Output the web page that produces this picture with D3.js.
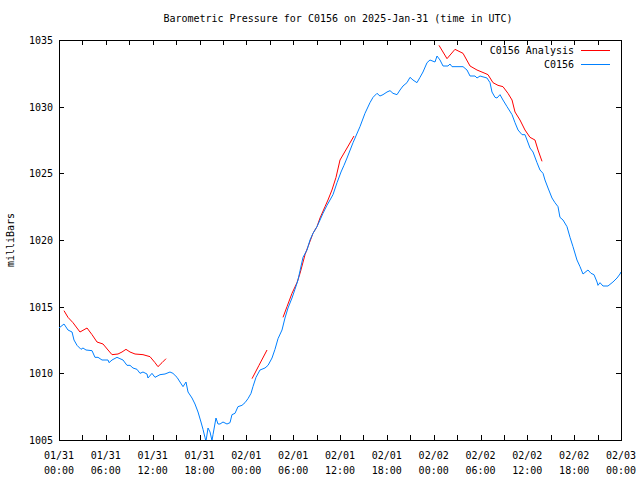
<!DOCTYPE html>
<html><head><meta charset="utf-8">
<script src="https://cdn.jsdelivr.net/npm/d3@7"></script>
<style>
body{margin:0;background:#fff;}
text{font-family:"DejaVu Sans Mono",monospace;font-size:10px;fill:#000;}
</style></head>
<body><svg id="c" width="640" height="480"></svg>
<script>
const startDate = Date.UTC(2025,0,31,0,0);
const yTicks = [1005,1010,1015,1020,1025,1030,1035];
const xTickDates = ["01/31","01/31","01/31","01/31","02/01","02/01","02/01","02/01","02/02","02/02","02/02","02/02","02/03"];
const xTickTimes = ["00:00","06:00","12:00","18:00","00:00","06:00","12:00","18:00","00:00","06:00","12:00","18:00","00:00"];
const seriesNames = ["C0156 Analysis","C0156"];

// observed (hours after 2025-01-31 00:00 UTC)
const obsHours = [0,0.64,1.15,1.67,1.92,2.31,2.82,3.07,3.46,4.23,4.61,5.0,5.51,6.28,6.41,6.79,7.43,7.81,8.2,8.71,9.1,9.48,9.99,10.38,10.76,11.27,11.4,11.91,12.3,12.94,13.58,14.22,14.6,15.12,15.5,15.89,16.27,16.53,17.04,17.42,17.81,18.19,18.45,18.7,18.83,19.09,19.35,19.6,19.73,20.11,20.37,20.63,21.01,21.52,21.91,22.16,22.55,22.93,23.44,23.83,24.21,24.6,24.85,25.24,25.75,26.39,26.78,27.29,27.67,28.06,28.57,28.95,29.34,29.85,30.23,30.62,30.88,31.26,31.77,32.16,32.54,33.05,33.44,33.82,34.33,34.72,35.1,35.62,36.13,36.51,36.9,37.67,38.56,39.2,39.84,40.23,40.74,41.12,41.51,42.02,42.41,42.79,43.3,43.69,44.07,44.58,44.97,45.35,45.86,46.25,46.63,47.15,47.53,48.17,48.43,48.81,49.2,49.84,50.09,50.35,51.76,52.27,52.66,53.3,53.55,53.94,54.83,55.22,55.47,55.86,56.11,56.5,56.88,57.4,58.04,58.42,58.81,59.32,59.7,59.96,60.34,60.73,61.24,61.62,62.01,62.26,62.65,63.16,63.54,63.93,64.18,64.57,65.08,65.47,65.85,66.36,66.75,67.13,67.77,68.16,68.54,68.93,69.05,69.31,69.69,70.33,70.97,71.49,71.87,72];
const obsValues = [1013.4,1013.7,1013.25,1013.1,1012.5,1012.1,1011.8,1011.9,1011.75,1011.7,1011.2,1011.2,1011.0,1011.0,1010.8,1011.0,1011.2,1011.1,1011.0,1010.6,1010.6,1010.4,1010.3,1010.0,1010.1,1009.95,1009.65,1010.0,1009.7,1009.9,1009.95,1010.1,1010.0,1009.7,1009.35,1009.0,1009.35,1008.6,1008.15,1007.7,1007.1,1006.35,1005.8,1005.2,1004.9,1005.9,1005.6,1004.95,1005.4,1006.65,1006.2,1006.2,1006.35,1006.2,1006.3,1006.9,1007.0,1007.5,1007.6,1007.8,1008.1,1008.5,1009.0,1009.7,1010.25,1010.4,1010.6,1011.15,1011.8,1012.6,1013.25,1014.15,1014.9,1015.65,1016.3,1017.0,1017.7,1018.7,1019.25,1020.0,1020.5,1021.0,1021.5,1022.0,1022.6,1023.0,1023.4,1024.3,1025.1,1025.6,1026.15,1027.3,1028.5,1029.5,1030.3,1030.7,1031.0,1030.8,1030.9,1031.1,1031.2,1031.0,1030.9,1031.25,1031.55,1031.8,1032.2,1032.0,1031.8,1032.2,1032.6,1033.3,1033.5,1033.35,1033.8,1033.5,1033.05,1033.05,1033.2,1033.0,1033.0,1032.75,1032.3,1032.3,1032.15,1032.3,1032.15,1031.8,1031.1,1030.7,1030.65,1030.9,1030.5,1030.0,1029.4,1028.8,1028.25,1027.9,1027.9,1027.5,1026.9,1026.6,1025.8,1025.25,1025.0,1024.5,1023.9,1023.15,1022.8,1022.5,1021.7,1021.5,1021.0,1020.2,1019.5,1018.5,1018.0,1017.45,1017.75,1017.5,1017.4,1016.85,1016.6,1016.8,1016.55,1016.55,1016.85,1017.15,1017.45,1017.6];

// analysis (null = gap between analysis runs)
const anaHours = [0.64,1.15,1.79,2.69,3.59,4.23,4.87,5.64,6.28,6.79,7.56,8.07,8.58,9.1,9.74,10.76,11.66,12.3,12.68,13.2,13.71,
  13.72,
  24.73,25.62,26.65,
  26.66,
  28.7,29.21,29.85,30.49,30.88,31.52,31.9,32.54,33.05,33.44,34.08,34.46,34.97,35.49,36.0,36.9,37.79,
  37.8,
  48.68,49.71,50.73,51.76,52.66,53.55,54.58,54.96,55.6,56.24,56.88,57.52,58.04,58.42,59.06,59.7,60.34,60.98,61.37,61.88];
const anaValues = [1014.7,1014.2,1013.8,1013.1,1013.4,1012.9,1012.35,1012.2,1011.75,1011.4,1011.45,1011.6,1011.8,1011.6,1011.45,1011.4,1011.25,1010.8,1010.5,1010.8,1011.1,
  null,
  1009.6,1010.6,1011.75,
  null,
  1014.2,1015.0,1016.0,1016.8,1017.5,1018.9,1019.5,1020.5,1021.0,1021.65,1022.5,1023.0,1023.75,1024.7,1026.0,1026.9,1027.8,
  null,
  1034.6,1033.6,1034.3,1034.0,1033.05,1032.75,1032.5,1032.4,1031.8,1031.6,1031.5,1031.0,1030.5,1029.6,1029.0,1028.25,1027.7,1027.5,1026.75,1025.9];

const colors = ["#ff0000","#0080ff"];
const L=59,R=621,T=40,B=440;
const svg = d3.select("#c");
const toDate = h => new Date(startDate + h*3600e3);
const x = d3.scaleUtc().domain([toDate(0),toDate(72)]).range([L,R]);
const y = d3.scaleLinear().domain([1005,1035]).range([B,T]);

svg.append("defs").append("clipPath").attr("id","clip")
  .append("rect").attr("x",L).attr("y",T).attr("width",R-L).attr("height",B-T);

// title
svg.append("text").attr("x",338).attr("y",22).attr("text-anchor","middle")
  .text("Barometric Pressure for C0156 on 2025-Jan-31 (time in UTC)");

// axes
const tick3 = d3.utcHour.every(3).range(toDate(0),toDate(72.01));
const gBottom = svg.append("g").attr("transform",`translate(0,${B})`)
  .call(d3.axisBottom(x).tickValues(tick3).tickSizeInner(-5).tickSizeOuter(0).tickFormat(""));
const gTop = svg.append("g").attr("transform",`translate(0,${T})`)
  .call(d3.axisTop(x).tickValues(tick3).tickSizeInner(-5).tickSizeOuter(0).tickFormat(""));
const gLeft = svg.append("g").attr("transform",`translate(${L},0)`)
  .call(d3.axisLeft(y).tickValues(yTicks).tickSizeInner(-5).tickSizeOuter(0).tickFormat(""));
const gRight = svg.append("g").attr("transform",`translate(${R},0)`)
  .call(d3.axisRight(y).tickValues(yTicks).tickSizeInner(-5).tickSizeOuter(0).tickFormat(""));
[gBottom,gTop,gLeft,gRight].forEach(g=>{
  g.selectAll("path,line").attr("stroke","#000").attr("shape-rendering","crispEdges");
});

// y labels
svg.append("g").selectAll("text").data(yTicks).join("text")
  .attr("x",53).attr("y",d=>y(d)+4).attr("text-anchor","end").text(d=>d);

// x labels
const tick6 = d3.utcHour.every(6).range(toDate(0),toDate(72.01));
const xl = svg.append("g").selectAll("text").data(tick6).join("text")
  .attr("text-anchor","middle");
xl.append("tspan").attr("x",d=>x(d)).attr("y",459).text((d,i)=>xTickDates[i]);
xl.append("tspan").attr("x",d=>x(d)).attr("y",474).text((d,i)=>xTickTimes[i]);

// y axis title
svg.append("text").attr("transform","translate(14,240) rotate(-90)")
  .attr("text-anchor","middle").text("milliBars");

// lines
const plot = svg.append("g").attr("clip-path","url(#clip)");
const line = d3.line().defined(d=>d[1]!=null).x(d=>x(toDate(d[0]))).y(d=>y(d[1]));
plot.append("path").datum(anaHours.map((h,i)=>[h,anaValues[i]]))
  .attr("d",line).attr("fill","none").attr("stroke",colors[0]).attr("stroke-width",1);
plot.append("path").datum(obsHours.map((h,i)=>[h,obsValues[i]]))
  .attr("d",line).attr("fill","none").attr("stroke",colors[1]).attr("stroke-width",1);

// legend
const lg = svg.append("g");
seriesNames.forEach((n,i)=>{
  const ly = 50 + i*14;
  lg.append("text").attr("x",574).attr("y",ly+4).attr("text-anchor","end").text(n);
  lg.append("line").attr("x1",581).attr("x2",610).attr("y1",ly).attr("y2",ly)
    .attr("stroke",colors[i]).attr("stroke-width",1).attr("shape-rendering","crispEdges");
});
</script></body></html>
